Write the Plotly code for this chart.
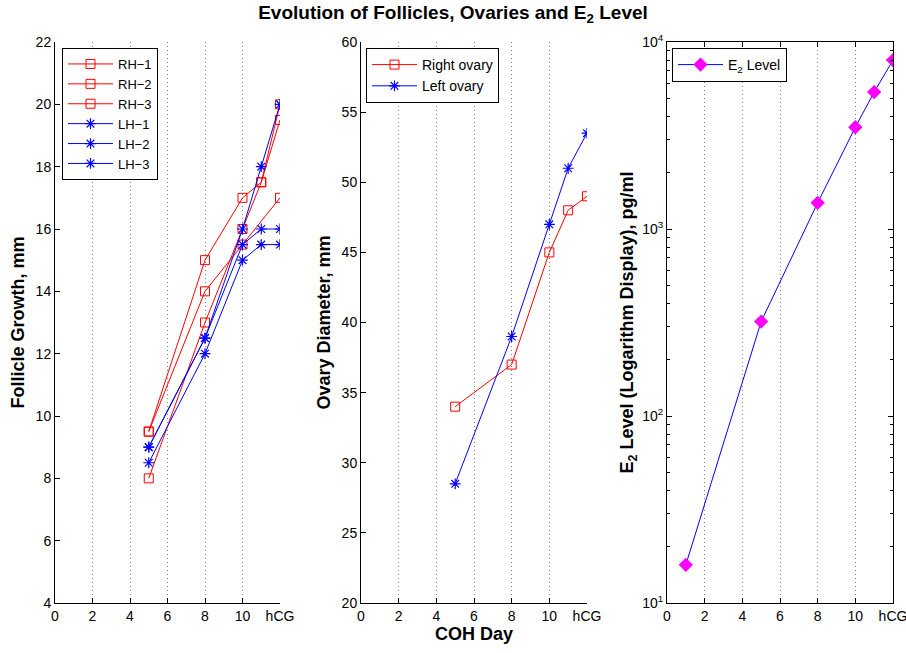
import plotly.graph_objects as go

# ---------------- data ----------------
rh_names = ["RH\u22121", "RH\u22122", "RH\u22123"]
rh1_x = [5, 8, 10, 11, 12]
rh1_y = [9.5, 15, 17, 17.5, 19.5]
rh2_x = [5, 8, 10, 12]
rh2_y = [9.5, 14, 15.5, 17]
rh3_x = [5, 8, 10, 11, 12]
rh3_y = [8, 13, 16, 17.5, 20]

lh_names = ["LH\u22121", "LH\u22122", "LH\u22123"]
lh1_x = [5, 8, 10, 11, 12]
lh1_y = [9, 12.5, 16, 18, 20]
lh2_x = [5, 8, 10, 11, 12]
lh2_y = [9, 12.5, 15.5, 16, 16]
lh3_x = [5, 8, 10, 11, 12]
lh3_y = [8.5, 12, 15, 15.5, 15.5]

ovary_x = [5, 8, 10, 11, 12]
right_ovary = [34, 37, 45, 48, 49]
left_ovary = [28.5, 39, 47, 51, 53.5]

e2_x = [1, 5, 8, 10, 11, 12]
e2_level = [16, 320, 1380, 3500, 5400, 8000]

x_tickvals = [0, 2, 4, 6, 8, 10, 12]
x_ticktext = ["0", "2", "4", "6", "8", "10", "hCG"]
y1_ticks = [4, 6, 8, 10, 12, 14, 16, 18, 20, 22]
y2_ticks = [20, 25, 30, 35, 40, 45, 50, 55, 60]
y3_ticks = [10, 100, 1000, 10000]
y3_text = ["10<sup>1</sup>", "10<sup>2</sup>", "10<sup>3</sup>", "10<sup>4</sup>"]

# ---------------- figure ----------------
FONT = "Liberation Sans, Arial, Helvetica, sans-serif"
RED = "#ff0000"
BLUE = "#0000ff"
MAG = "#ff00ff"

fig = go.Figure()

for name, xs, ys in zip(rh_names, [rh1_x, rh2_x, rh3_x], [rh1_y, rh2_y, rh3_y]):
    fig.add_trace(go.Scatter(x=xs, y=ys, name=name, mode="lines+markers",
                             line=dict(color=RED, width=1),
                             marker=dict(symbol="square-open", size=9, color=RED, line=dict(width=1)),
                             xaxis="x", yaxis="y", legend="legend"))
for name, xs, ys in zip(lh_names, [lh1_x, lh2_x, lh3_x], [lh1_y, lh2_y, lh3_y]):
    fig.add_trace(go.Scatter(x=xs, y=ys, name=name, mode="lines+markers",
                             line=dict(color=BLUE, width=1),
                             marker=dict(symbol="asterisk-open", size=9, color=BLUE, line=dict(width=1.2, color=BLUE)),
                             xaxis="x", yaxis="y", legend="legend"))

fig.add_trace(go.Scatter(x=ovary_x, y=right_ovary, name="Right ovary", mode="lines+markers",
                         line=dict(color=RED, width=1),
                         marker=dict(symbol="square-open", size=9, color=RED, line=dict(width=1)),
                         xaxis="x2", yaxis="y2", legend="legend2"))
fig.add_trace(go.Scatter(x=ovary_x, y=left_ovary, name="Left ovary", mode="lines+markers",
                         line=dict(color=BLUE, width=1),
                         marker=dict(symbol="asterisk-open", size=9, color=BLUE, line=dict(width=1.2, color=BLUE)),
                         xaxis="x2", yaxis="y2", legend="legend2"))

fig.add_trace(go.Scatter(x=e2_x, y=e2_level, name="E<sub>2</sub> Level", mode="lines+markers",
                         line=dict(color=BLUE, width=1),
                         marker=dict(symbol="diamond", size=11, color=MAG, line=dict(width=0)),
                         xaxis="x3", yaxis="y3", legend="legend3"))

W, H = 906, 653
def px_x(p):
    return p / W
def px_y(p):
    return 1 - p / H

top, bottom = px_y(42), px_y(603)
doms = [(px_x(55), px_x(280)), (px_x(361), px_x(587)), (px_x(667), px_x(893))]

tickfont = dict(family=FONT, size=14, color="black")
titlefont = dict(family=FONT, size=18, color="black")

def xax(dom, anchor, mirror=False, title=None):
    d = dict(domain=list(dom), anchor=anchor, range=[0, 12], automargin=False,
             tickvals=x_tickvals, ticktext=x_ticktext, ticklabeloverflow="allow",
             ticks="inside", ticklen=5, tickcolor="black",
             showline=True, linecolor="black", linewidth=1,
             showgrid=True, gridcolor="#808080", griddash="1px,3px", gridwidth=1,
             zeroline=False, tickfont=tickfont, mirror=mirror)
    if title:
        d["title"] = dict(text="<b>" + title + "</b>", font=titlefont, standoff=2)
    return d

def yax(anchor, rng, tickvals, title, standoff, ticktext=None, mirror=False, log=False):
    d = dict(domain=[bottom, top], anchor=anchor, range=rng, automargin=False,
             tickvals=tickvals, ticks="inside", ticklen=5, tickcolor="black",
             showline=True, linecolor="black", linewidth=1,
             showgrid=False, zeroline=False, tickfont=tickfont, mirror=mirror,
             title=dict(text="<b>" + title + "</b>", font=titlefont, standoff=standoff))
    if ticktext:
        d["ticktext"] = ticktext
    if log:
        d["type"] = "log"
        d["minor"] = dict(ticks="inside", ticklen=3, tickcolor="black", showgrid=False,
                          tickvals=[m * 10 ** k for k in (1, 2, 3) for m in range(2, 10)])
    return d

def legend_style(size):
    return dict(xanchor="left", yanchor="top", bgcolor="white",
                bordercolor="black", borderwidth=1, itemwidth=45,
                font=dict(family=FONT, size=size, color="black"), tracegroupgap=0)

fig.update_layout(
    template="none",
    width=W, height=H,
    margin=dict(l=0, r=0, t=0, b=0, autoexpand=False),
    paper_bgcolor="white", plot_bgcolor="white",
    font=dict(family=FONT, size=13, color="black"),
    title=dict(text="<b>Evolution of Follicles, Ovaries and E<sub>2</sub> Level</b>",
               x=0.5, xanchor="center", y=px_y(12), yanchor="middle",
               font=dict(family=FONT, size=19, color="black")),
    xaxis=xax(doms[0], "y"),
    yaxis=yax("x", [4, 22], y1_ticks, "Follicle Growth, mm", 6),
    xaxis2=xax(doms[1], "y2", title="COH Day"),
    yaxis2=yax("x2", [20, 60], y2_ticks, "Ovary Diameter, mm", 6),
    xaxis3=xax(doms[2], "y3", mirror="ticks"),
    yaxis3=yax("x3", [1, 4], y3_ticks, "E<sub>2</sub> Level (Logarithm Display), pg/ml", 3,
               ticktext=y3_text, mirror="ticks", log=True),
    legend=dict(x=px_x(62), y=px_y(48), **legend_style(13)),
    legend2=dict(x=px_x(366), y=px_y(48), **legend_style(14)),
    legend3=dict(x=px_x(672), y=px_y(48), **legend_style(14)),
    showlegend=True,
)

fig.write_html("out.html")
